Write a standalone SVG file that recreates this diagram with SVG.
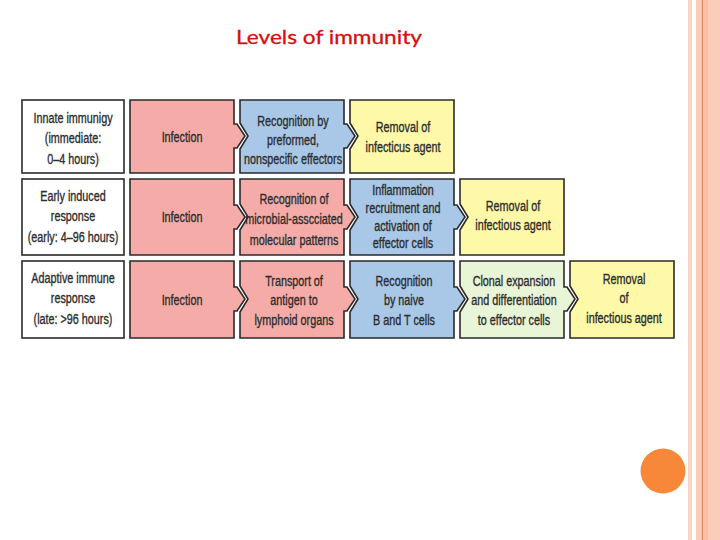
<svg xmlns="http://www.w3.org/2000/svg" width="720" height="540" viewBox="0 0 720 540">
<style>
.box{stroke:#2a2a2a;stroke-width:1.6;stroke-linejoin:miter}
.w{fill:#ffffff}.p{fill:#f5aca8}.b{fill:#a9c7e7}.y{fill:#fdf9a8}.g{fill:#e9f5d7}
.t{font-family:"Liberation Sans",Arial,sans-serif;font-size:15px;fill:#2d2d2d;stroke:#2d2d2d;stroke-width:0.35;text-anchor:middle}
.title{font-family:Lato,"Liberation Sans",sans-serif;font-size:20px;fill:#d40f0f;stroke:#d40f0f;stroke-width:0.3;text-anchor:middle}
</style>
<rect width="720" height="540" fill="#ffffff"/>
<g id="decor">
<rect x="688" y="0" width="4" height="540" fill="#fad4c4"/>
<rect x="696" y="0" width="24" height="540" fill="#fbcdb9"/>
<rect x="703" y="0" width="5" height="540" fill="#f9c0a6"/>
<rect x="701.8" y="0" width="1.2" height="540" fill="#e38d63"/>
<circle cx="663" cy="471" r="22.5" fill="#f7883a"/>
</g>
<text class="title" x="329" y="44" textLength="186" lengthAdjust="spacingAndGlyphs">Levels of immunity</text>
<g id="connectors"></g>
<!-- Row 1 -->
<g id="r1c0"><rect class="box w" x="22" y="100" width="102" height="73"/>
<g transform="translate(73 0) scale(0.72 1)"><text class="t" x="0" y="123">Innate immunigy</text><text class="t" x="0" y="143">(immediate:</text><text class="t" x="0" y="164">0–4 hours)</text></g></g>
<g id="r1c1"><path class="box p" d="M130,100 H234 V124 H237 L245,136 L237,148 H234 V173 H130 Z"/>
<g transform="translate(182 0) scale(0.72 1)"><text class="t" x="0" y="142">Infection</text></g></g>
<g id="r1c2"><path class="box b" d="M240,100 H344 V124 H347 L355,136 L347,148 H344 V173 H240 V149 L248,136 L240,123 Z"/>
<g transform="translate(293 0) scale(0.72 1)"><text class="t" x="0" y="126">Recognition by</text><text class="t" x="0" y="145">preformed,</text><text class="t" x="0" y="164">nonspecific effectors</text></g></g>
<g id="r1c3"><path class="box y" d="M350,100 H454 V173 H350 V149 L358,136 L350,123 Z"/>
<g transform="translate(403 0) scale(0.72 1)"><text class="t" x="0" y="132">Removal of</text><text class="t" x="0" y="152">infecticus agent</text></g></g>
<!-- Row 2 -->
<g id="r2c0"><rect class="box w" x="22" y="179" width="102" height="76"/>
<g transform="translate(73 0) scale(0.72 1)"><text class="t" x="0" y="201">Early induced</text><text class="t" x="0" y="221">response</text><text class="t" x="0" y="242">(early: 4–96 hours)</text></g></g>
<g id="r2c1"><path class="box p" d="M130,179 H234 V205 H237 L245,217 L237,229 H234 V255 H130 Z"/>
<g transform="translate(182 0) scale(0.72 1)"><text class="t" x="0" y="222">Infection</text></g></g>
<g id="r2c2"><path class="box p" d="M240,179 H344 V205 H347 L355,217 L347,229 H344 V255 H240 V230 L248,217 L240,204 Z"/>
<g transform="translate(294 0) scale(0.72 1)"><text class="t" x="0" y="204">Recognition of</text><text class="t" x="0" y="224">microbial-asscciated</text><text class="t" x="0" y="245">molecular patterns</text></g></g>
<g id="r2c3"><path class="box b" d="M350,179 H454 V205 H457 L465,217 L457,229 H454 V255 H350 V230 L358,217 L350,204 Z"/>
<g transform="translate(403 0) scale(0.72 1)"><text class="t" x="0" y="195">Inflammation</text><text class="t" x="0" y="213">recruitment and</text><text class="t" x="0" y="231">activation of</text><text class="t" x="0" y="248">effector cells</text></g></g>
<g id="r2c4"><path class="box y" d="M460,179 H564 V255 H460 V230 L468,217 L460,204 Z"/>
<g transform="translate(513 0) scale(0.72 1)"><text class="t" x="0" y="211">Removal of</text><text class="t" x="0" y="230">infectious agent</text></g></g>
<!-- Row 3 -->
<g id="r3c0"><rect class="box w" x="22" y="261" width="102" height="77"/>
<g transform="translate(73 0) scale(0.72 1)"><text class="t" x="0" y="283">Adaptive immune</text><text class="t" x="0" y="303">response</text><text class="t" x="0" y="324">(late: &gt;96 hours)</text></g></g>
<g id="r3c1"><path class="box p" d="M130,261 H234 V287 H237 L245,299 L237,311 H234 V338 H130 Z"/>
<g transform="translate(182 0) scale(0.72 1)"><text class="t" x="0" y="305">Infection</text></g></g>
<g id="r3c2"><path class="box p" d="M240,261 H344 V287 H347 L355,299 L347,311 H344 V338 H240 V312 L248,299 L240,286 Z"/>
<g transform="translate(294 0) scale(0.72 1)"><text class="t" x="0" y="286">Transport of</text><text class="t" x="0" y="305">antigen to</text><text class="t" x="0" y="325">lymphoid organs</text></g></g>
<g id="r3c3"><path class="box b" d="M350,261 H454 V287 H457 L465,299 L457,311 H454 V338 H350 V312 L358,299 L350,286 Z"/>
<g transform="translate(404 0) scale(0.72 1)"><text class="t" x="0" y="286">Recognition</text><text class="t" x="0" y="305">by naive</text><text class="t" x="0" y="325">B and T cells</text></g></g>
<g id="r3c4"><path class="box g" d="M460,261 H564 V287 H567 L575,299 L567,311 H564 V338 H460 V312 L468,299 L460,286 Z"/>
<g transform="translate(514 0) scale(0.72 1)"><text class="t" x="0" y="286">Clonal expansion</text><text class="t" x="0" y="305">and differentiation</text><text class="t" x="0" y="325">to effector cells</text></g></g>
<g id="r3c5"><path class="box y" d="M570,261 H674 V338 H570 V312 L578,299 L570,286 Z"/>
<g transform="translate(624 0) scale(0.72 1)"><text class="t" x="0" y="284">Removal</text><text class="t" x="0" y="303">of</text><text class="t" x="0" y="323">infectious agent</text></g></g>
</svg>
